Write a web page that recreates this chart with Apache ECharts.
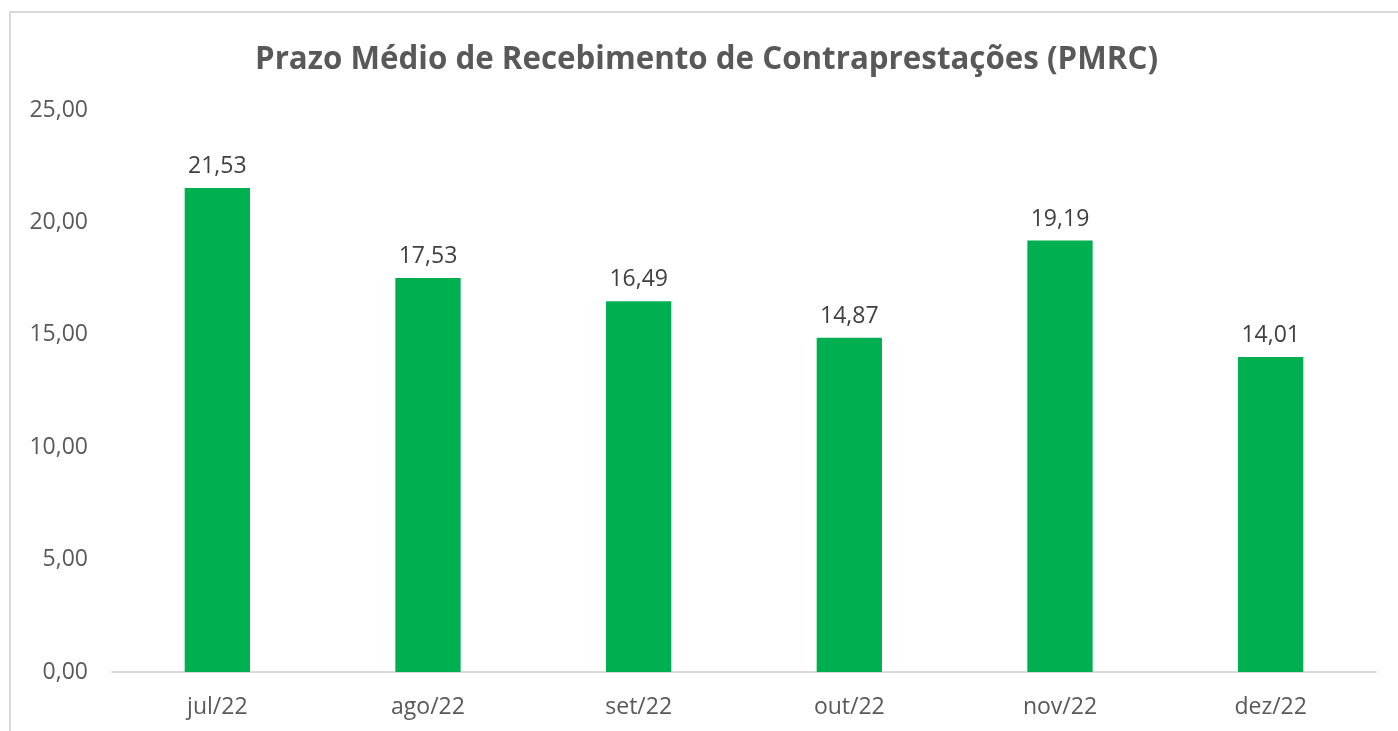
<!DOCTYPE html>
<html><head><meta charset="utf-8">
<script src="https://cdn.jsdelivr.net/npm/echarts@6/dist/echarts.min.js"></script>
<style>
html,body{margin:0;padding:0;background:#fff;}
#frame{position:absolute;left:9px;top:11px;width:1400px;height:730px;border-left:2px solid #d9d9d9;border-top:2px solid #d9d9d9;box-sizing:border-box;}
#c{position:absolute;left:0;top:0;width:1398px;height:731px;}
</style></head>
<body>
<div id="frame"></div>
<div id="c"></div>
<script>
const categories = ['jul/22','ago/22','set/22','out/22','nov/22','dez/22'];
const values = [21.53, 17.53, 16.49, 14.87, 19.19, 14.01];
const yTicks = [0, 5, 10, 15, 20, 25];
const titleText = 'Prazo Médio de Recebimento de Contraprestações (PMRC)';

const fmt = v => v.toFixed(2).replace('.', ',');
const chart = echarts.init(document.getElementById('c'));
chart.setOption({
  animation: false,
  title: {
    text: titleText, left: 250, top: 40,
    textStyle: {fontFamily: 'Open Sans', fontWeight: 'bold', fontSize: 31.3, color: '#595959'}
  },
  grid: {left: 112, right: 22, top: 110, bottom: 59},
  xAxis: {
    type: 'category', data: categories,
    axisLine: {lineStyle: {color: '#d9d9d9', width: 2}},
    axisTick: {show: false},
    axisLabel: {color: '#595959', fontSize: 23, fontFamily: 'Open Sans', margin: 24}
  },
  yAxis: {
    type: 'value', min: yTicks[0], max: yTicks[yTicks.length-1], interval: 5,
    axisLine: {show: false}, axisTick: {show: false}, splitLine: {show: false},
    axisLabel: {color: '#595959', fontSize: 23, fontFamily: 'Open Sans', margin: 24, formatter: fmt}
  },
  series: [{
    type: 'bar', data: values, barWidth: '31%',
    itemStyle: {color: '#00B050'},
    label: {show: true, position: 'top', distance: 10, color: '#404040', fontSize: 23, fontFamily: 'Open Sans', formatter: p => fmt(p.value)}
  }]
});
</script>
</body></html>
